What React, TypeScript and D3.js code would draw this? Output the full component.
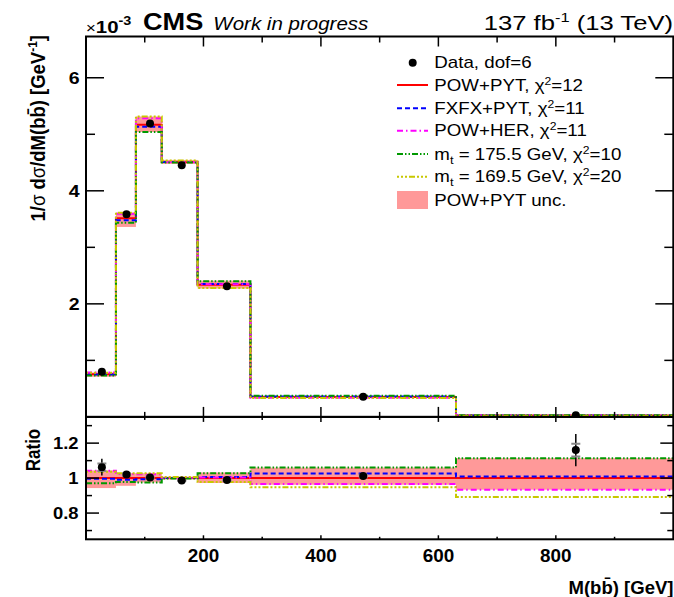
import React from 'react';
import * as d3 from 'd3';

// ---------- data ----------
const binEdges = [0, 51, 85, 129, 190, 280, 630, 1000];
const dataX = [27, 69, 109, 163, 240, 472, 834];
const dataY = [0.8, 3.585, 5.19, 4.45, 2.31, 0.357, 0.029];
const dataRelErr = [0.045, 0.012, 0.008, 0.006, 0.01, 0.015, 0.08];
const dataRelInner = [0.02, 0.006, 0.004, 0.003, 0.005, 0.008, 0.032];
const powPyt = [0.753, 3.515, 5.17, 4.51, 2.336, 0.353, 0.025];
const ratioFxfx = [0.996, 0.99, 0.993, 1.0, 1.006, 1.026, 1.009];
const ratioHer = [1.042, 1.023, 1.022, 1.0, 1.004, 0.966, 0.934];
const ratioMt1755 = [0.97, 0.977, 0.975, 0.998, 1.028, 1.06, 1.114];
const ratioMt1695 = [1.036, 1.028, 1.028, 1.006, 0.977, 0.947, 0.892];
const bandLo = [0.943, 0.956, 0.975, 0.992, 0.972, 0.962, 0.934];
const bandHi = [1.044, 1.028, 1.028, 1.008, 1.032, 1.06, 1.114];

const xMajor = [200, 400, 600, 800];
const xMinor = [100, 300, 500, 700, 900];
const yMajor = [2, 4, 6];
const yMinor = [1, 3, 5];
const rMajor = [0.8, 1, 1.2];
const rMajorLabels = ['0.8', '1', '1.2'];
const rMinor = [0.7, 0.9, 1.1, 1.3];

const FONT = '"Liberation Sans", Arial, Helvetica, sans-serif';

const W = 674;
const H = 597;
const L = 86;
const R = 673.3;
const T0 = 36.5;
const MID = 416.9;
const B = 539.3;

const x = d3.scaleLinear().domain([0, 1000]).range([L, R]);
const y = d3.scaleLinear().domain([0, 6.73]).range([MID, T0]);
const yr = d3.scaleLinear().domain([0.65, 1.35]).range([B, MID]);

const models = [
  { name: 'pow', ratio: powPyt.map(() => 1), color: '#ff0000', dash: undefined },
  { name: 'fxfx', ratio: ratioFxfx, color: '#0000ff', dash: '5,3' },
  { name: 'her', ratio: ratioHer, color: '#ff00ff', dash: '6,3,1.5,3' },
  { name: 'mt1755', ratio: ratioMt1755, color: '#009900', dash: '6,2,1.5,2,1.5,2' },
  { name: 'mt1695', ratio: ratioMt1695, color: '#c8c800', dash: '2,2,2,2,2,2,6,2' },
];

function stepPath(vals: number[], ys: d3.ScaleLinear<number, number>) {
  let p = `M${x(binEdges[0])},${ys(vals[0])}`;
  vals.forEach((v, i) => {
    if (i > 0) p += `V${ys(v)}`;
    p += `H${x(binEdges[i + 1])}`;
  });
  return p;
}

function Txt(props: any) {
  const { x: tx, y: ty, sx = 1, rot = 0, size, weight = 'normal', anchor = 'start', italic = false, children } = props;
  return (
    <text
      transform={`translate(${tx},${ty}) scale(${sx},1)${rot ? ` rotate(${rot})` : ''}`}
      fontSize={size}
      fontWeight={weight}
      fontStyle={italic ? 'italic' : 'normal'}
      textAnchor={anchor}
      fontFamily={FONT}
      fill="#000"
    >
      {children}
    </text>
  );
}

function Chi({ v, size }: { v: string; size: number }) {
  return (
    <>
      {'χ'}
      <tspan dy={-size * 0.38} fontSize={size * 0.65}>2</tspan>
      <tspan dy={size * 0.38}>{'=' + v}</tspan>
    </>
  );
}

export default function App() {
  const legendRows = [62.7, 85, 108.3, 130.7, 154, 176.7, 200];
  const lx0 = 397;
  const lx1 = 428;
  const ltx = 434.3;
  const lsize = 16;
  const lsx = 1.17;

  const upperVals = models.map((m) => powPyt.map((v, i) => v * m.ratio[i]));
  const ratioData = dataY.map((d, i) => d / powPyt[i]);

  return (
    <svg width={W} height={H} style={{ position: 'absolute', left: 0, top: 0, background: '#fff' }}>
      <defs>
        <clipPath id="cu">
          <rect x={L} y={T0} width={R - L} height={MID - T0} />
        </clipPath>
        <clipPath id="cr">
          <rect x={L} y={MID} width={R - L} height={B - MID} />
        </clipPath>
      </defs>
      <rect x={0} y={0} width={W} height={H} fill="#fff" />

      {/* upper panel */}
      <g clipPath="url(#cu)">
        {powPyt.map((v, i) => (
          <rect
            key={i}
            x={x(binEdges[i])}
            width={x(binEdges[i + 1]) - x(binEdges[i])}
            y={y(v * bandHi[i])}
            height={y(v * bandLo[i]) - y(v * bandHi[i])}
            fill="#ff9999"
          />
        ))}
        {models.map((m, k) => (
          <path key={m.name} d={stepPath(upperVals[k], y)} fill="none" stroke={m.color} strokeWidth={2} strokeDasharray={m.dash} />
        ))}
        {dataY.map((d, i) => (
          <g key={i}>
            <line x1={x(dataX[i])} x2={x(dataX[i])} y1={y(d * (1 + dataRelErr[i]))} y2={y(d * (1 - dataRelErr[i]))} stroke="#000" strokeWidth={1.5} />
            <circle cx={x(dataX[i])} cy={y(d)} r={4} fill="#000" />
          </g>
        ))}
      </g>

      {/* ratio panel */}
      <g clipPath="url(#cr)">
        {powPyt.map((v, i) => (
          <rect
            key={i}
            x={x(binEdges[i])}
            width={x(binEdges[i + 1]) - x(binEdges[i])}
            y={yr(bandHi[i])}
            height={yr(bandLo[i]) - yr(bandHi[i])}
            fill="#ff9999"
          />
        ))}
        {models.map((m) => (
          <path key={m.name} d={stepPath(m.ratio, yr)} fill="none" stroke={m.color} strokeWidth={2} strokeDasharray={m.dash} />
        ))}
        {ratioData.map((r, i) => (
          <g key={i}>
            <line x1={x(dataX[i])} x2={x(dataX[i])} y1={yr(r * (1 + dataRelErr[i]))} y2={yr(r * (1 - dataRelErr[i]))} stroke="#000" strokeWidth={1.5} />
            {[1, -1].map((s) => (
              <line key={s} x1={x(dataX[i]) - 4.5} x2={x(dataX[i]) + 4.5} y1={yr(r * (1 + s * dataRelInner[i]))} y2={yr(r * (1 + s * dataRelInner[i]))} stroke="#888" strokeWidth={2} />
            ))}
            <circle cx={x(dataX[i])} cy={yr(r)} r={4} fill="#000" />
          </g>
        ))}
      </g>

      {/* frames */}
      <rect x={L} y={T0} width={R - L} height={MID - T0} fill="none" stroke="#000" strokeWidth={2} />
      <rect x={L} y={MID} width={R - L} height={B - MID} fill="none" stroke="#000" strokeWidth={2} />

      {/* x ticks */}
      <g stroke="#000" strokeWidth={1.5}>
        {xMajor.map((v) => (
          <g key={'M' + v}>
            <line x1={x(v)} x2={x(v)} y1={T0} y2={T0 + 10} />
            <line x1={x(v)} x2={x(v)} y1={MID} y2={MID - 10} />
            <line x1={x(v)} x2={x(v)} y1={MID} y2={MID + 5} />
            <line x1={x(v)} x2={x(v)} y1={B} y2={B - 4} />
          </g>
        ))}
        {xMinor.map((v) => (
          <g key={'m' + v}>
            <line x1={x(v)} x2={x(v)} y1={T0} y2={T0 + 6} />
            <line x1={x(v)} x2={x(v)} y1={MID} y2={MID - 5} />
            <line x1={x(v)} x2={x(v)} y1={MID} y2={MID + 3} />
            <line x1={x(v)} x2={x(v)} y1={B} y2={B - 2.5} />
          </g>
        ))}
        {yMajor.map((v) => (
          <g key={'y' + v}>
            <line x1={L} x2={L + 18} y1={y(v)} y2={y(v)} />
            <line x1={R} x2={R - 18} y1={y(v)} y2={y(v)} />
          </g>
        ))}
        {yMinor.map((v) => (
          <g key={'ym' + v}>
            <line x1={L} x2={L + 9} y1={y(v)} y2={y(v)} />
            <line x1={R} x2={R - 9} y1={y(v)} y2={y(v)} />
          </g>
        ))}
        {rMajor.map((v) => (
          <g key={'r' + v}>
            <line x1={L} x2={L + 13} y1={yr(v)} y2={yr(v)} />
            <line x1={R} x2={R - 13} y1={yr(v)} y2={yr(v)} />
          </g>
        ))}
        {rMinor.map((v) => (
          <g key={'rm' + v}>
            <line x1={L} x2={L + 6} y1={yr(v)} y2={yr(v)} />
            <line x1={R} x2={R - 6} y1={yr(v)} y2={yr(v)} />
          </g>
        ))}
      </g>

      {/* tick labels */}
      {yMajor.map((v) => (
        <Txt key={'yl' + v} x={79.5} y={y(v) + 6} sx={1.15} size={17} weight="bold" anchor="end">
          {String(v)}
        </Txt>
      ))}
      {rMajor.map((v, i) => (
        <Txt key={'rl' + v} x={78.5} y={yr(v) + 5.5} sx={1.15} size={16} weight="bold" anchor="end">
          {rMajorLabels[i]}
        </Txt>
      ))}
      {xMajor.map((v) => (
        <Txt key={'xl' + v} x={x(v)} y={561.7} sx={1.05} size={18} weight="bold" anchor="middle">
          {String(v)}
        </Txt>
      ))}

      {/* axis titles */}
      <Txt x={673.5} y={593.5} sx={1.03} size={18} weight="bold" anchor="end">
        {'M(bb\u0304) [GeV]'}
      </Txt>
      <Txt x={44.5} y={35} sx={1.12} size={18.5} weight="bold" anchor="end" rot={-90}>
        {'1/'}
        <tspan fontWeight="normal">σ</tspan>
        {' d'}
        <tspan fontWeight="normal">σ</tspan>
        {'/dM(bb\u0304) [GeV'}
        <tspan dy={-7} fontSize={12}>-1</tspan>
        <tspan dy={7}>]</tspan>
      </Txt>
      <Txt x={39.5} y={450} sx={1.17} size={17} weight="bold" anchor="middle" rot={-90}>
        Ratio
      </Txt>

      {/* header */}
      <Txt x={86} y={32.7} sx={1.2} size={17} weight="bold">
        <tspan fontWeight="normal" fontSize={14}>×</tspan>
        {'10'}
        <tspan dy={-8} fontSize={12}>-3</tspan>
      </Txt>
      <Txt x={143} y={30} sx={1.18} size={23} weight="bold">
        CMS
      </Txt>
      <Txt x={213.3} y={30} sx={1.14} size={18} italic>
        Work in progress
      </Txt>
      <Txt x={673} y={29.5} sx={1.22} size={21} anchor="end">
        {'137 fb'}
        <tspan dy={-8} fontSize={13.5}>-1</tspan>
        <tspan dy={8}>{' (13 TeV)'}</tspan>
      </Txt>

      {/* legend */}
      <circle cx={412.7} cy={legendRows[0]} r={4} fill="#000" />
      {models.map((m, k) => (
        <line key={m.name} x1={lx0} x2={lx1} y1={legendRows[k + 1]} y2={legendRows[k + 1]} stroke={m.color} strokeWidth={2} strokeDasharray={m.dash} />
      ))}
      <rect x={lx0} y={legendRows[6] - 9} width={lx1 - lx0} height={18} fill="#ff9999" />
      <Txt x={ltx} y={legendRows[0] + 5.7} sx={lsx} size={lsize}>Data, dof=6</Txt>
      <Txt x={ltx} y={legendRows[1] + 5.7} sx={lsx} size={lsize}>
        {'POW+PYT, '}
        <Chi v="12" size={lsize} />
      </Txt>
      <Txt x={ltx} y={legendRows[2] + 5.7} sx={lsx} size={lsize}>
        {'FXFX+PYT, '}
        <Chi v="11" size={lsize} />
      </Txt>
      <Txt x={ltx} y={legendRows[3] + 5.7} sx={lsx} size={lsize}>
        {'POW+HER, '}
        <Chi v="11" size={lsize} />
      </Txt>
      <Txt x={ltx} y={legendRows[4] + 5.7} sx={lsx} size={lsize}>
        {'m'}
        <tspan dy={4} fontSize={11}>t</tspan>
        <tspan dy={-4}>{' = 175.5 GeV, '}</tspan>
        <Chi v="10" size={lsize} />
      </Txt>
      <Txt x={ltx} y={legendRows[5] + 5.7} sx={lsx} size={lsize}>
        {'m'}
        <tspan dy={4} fontSize={11}>t</tspan>
        <tspan dy={-4}>{' = 169.5 GeV, '}</tspan>
        <Chi v="20" size={lsize} />
      </Txt>
      <Txt x={ltx} y={legendRows[6] + 5.7} sx={lsx} size={lsize}>POW+PYT unc.</Txt>
    </svg>
  );
}
